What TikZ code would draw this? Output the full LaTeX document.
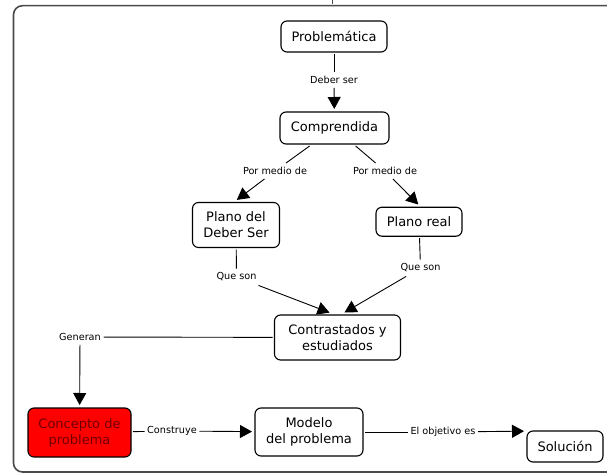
\documentclass[tikz,border=0pt]{standalone}
\usepackage{fontspec}
\setmainfont{DejaVu Sans}
\usetikzlibrary{arrows.meta}
\definecolor{framegray}{HTML}{4A4A4A}
\definecolor{conceptred}{HTML}{FF0000}
\definecolor{conceptink}{HTML}{700000}
\begin{document}
\begin{tikzpicture}[x=1pt,y=-1pt,
  concept/.style={draw=black, line width=1.1pt, rounded corners=6pt, fill=white,
    align=center, inner sep=0pt, outer sep=2pt,
    font=\fontsize{13}{16}\selectfont},
  hotconcept/.style={concept, fill=conceptred, text=conceptink},
  linklabel/.style={inner xsep=2.5pt, inner ysep=4pt,
    font=\fontsize{9.7}{11}\selectfont},
  conn/.style={draw=black, line width=0.9pt},
  arr/.style={conn, -{Triangle[length=12pt,width=13pt]}, shorten >=1pt}
]
\useasboundingbox (0,0) rectangle (607,473);

% outer frame and the short mark above it
\draw[framegray, line width=1.6pt, rounded corners=9pt] (13.5,5.7) rectangle (640,472);
\draw[framegray, line width=1pt] (332,0) -- (332,4);

% concepts
\node[concept, minimum width=106pt, minimum height=31pt] (prob) at (334,36.5) {Problemática};
\node[concept, minimum width=109pt, minimum height=32pt] (comp) at (334.5,128) {Comprendida};
\node[concept, minimum width=87pt, minimum height=45pt] (pd) at (236,225) {Plano del\\Deber Ser};
\node[concept, minimum width=86pt, minimum height=29pt] (pr) at (419,221.7) {Plano real};
\node[concept, minimum width=126pt, minimum height=45pt] (cs) at (337.5,337.5) {Contrastados y\\estudiados};
\node[hotconcept, minimum width=103pt, minimum height=49pt] (cp) at (79.5,432.5) {Concepto de\\problema};
\node[concept, minimum width=108pt, minimum height=48pt] (mp) at (309,432) {Modelo\\del problema};
\node[concept, minimum width=76pt, minimum height=31pt] (sol) at (565,446.5) {Solución};

% linking phrases
\node[linklabel] (l1) at (334,80) {Deber ser};
\node[linklabel] (l2) at (275,171) {Por medio de};
\node[linklabel] (l3) at (385,171) {Por medio de};
\node[linklabel] (l4) at (236.5,277) {Que son};
\node[linklabel] (l5) at (420.5,268) {Que son};
\node[linklabel] (l6) at (80,337) {Generan};
\node[linklabel] (l7) at (172,431) {Construye};
\node[linklabel] (l8) at (443,432) {El objetivo es};

% connections
\draw[conn] (prob) -- (l1);  \draw[arr] (l1) -- (comp);
\draw[conn] (comp) -- (l2);  \draw[arr] (l2) -- (pd.north);
\draw[conn] (comp) -- (l3);  \draw[arr] (l3) -- (pr.north);
\draw[conn] (pd) -- (l4);    \draw[arr] (l4) -- (cs.106);
\draw[conn] (pr) -- (l5);    \draw[arr] (l5) -- (cs.76);
\draw[conn] (cs) -- (l6);    \draw[arr] (l6) -- (cp);
\draw[conn] (cp) -- (l7);    \draw[arr] (l7) -- (mp);
\draw[conn] (mp) -- (l8);    \draw[arr] (l8) -- (sol.159);
\end{tikzpicture}
\end{document}
